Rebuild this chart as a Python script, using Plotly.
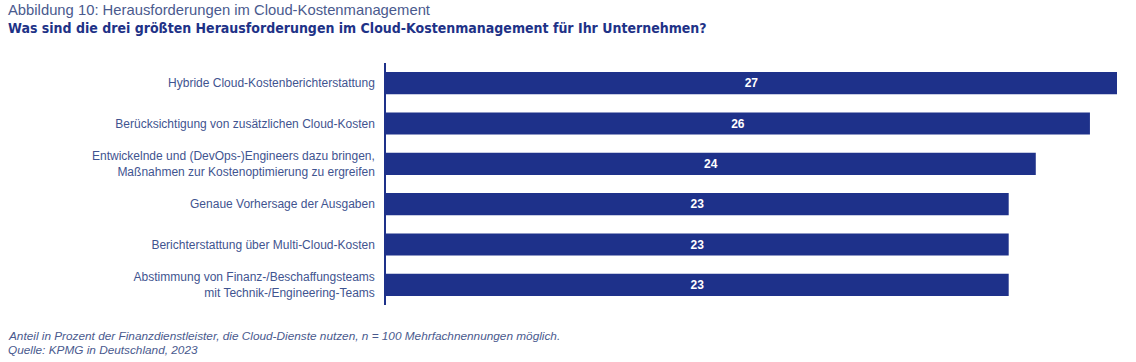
import plotly.graph_objects as go

categories = [
    "Hybride Cloud-Kostenberichterstattung",
    "Berücksichtigung von zusätzlichen Cloud-Kosten",
    "Entwickelnde und (DevOps-)Engineers dazu bringen,<br>Maßnahmen zur Kostenoptimierung zu ergreifen",
    "Genaue Vorhersage der Ausgaben",
    "Berichterstattung über Multi-Cloud-Kosten",
    "Abstimmung von Finanz-/Beschaffungsteams<br>mit Technik-/Engineering-Teams",
]
values = [27, 26, 24, 23, 23, 23]

title_1 = "Abbildung 10: Herausforderungen im Cloud-Kostenmanagement"
title_2 = "Was sind die drei größten Herausforderungen im Cloud-Kostenmanagement für Ihr Unternehmen?"
note_1 = "Anteil in Prozent der Finanzdienstleister, die Cloud-Dienste nutzen, n = 100 Mehrfachnennungen möglich."
note_2 = "Quelle: KPMG in Deutschland, 2023"

BAR = "#1E318A"
LABEL = "#3F5490"
NOTE = "#4A5A8E"

W, H = 1136, 362
L, R, T, B = 386, 19, 63, 57
PW, PH = W - L - R, H - T - B

def px(x):
    return (x - L) / PW

def py(y):
    return (H - B - y) / PH

fig = go.Figure(
    go.Bar(
        x=values,
        y=categories,
        orientation="h",
        marker=dict(color=BAR, line=dict(width=0)),
        width=0.55,
        text=[str(v) for v in values],
        textposition="inside",
        insidetextanchor="middle",
        textangle=0,
        textfont=dict(color="white", size=12, family="Liberation Sans", weight="bold"),
        hoverinfo="skip",
    )
)

fig.update_layout(
    width=W,
    height=H,
    margin=dict(l=L, r=R, t=T, b=B, autoexpand=False),
    paper_bgcolor="white",
    plot_bgcolor="white",
    showlegend=False,
    xaxis=dict(range=[0, 27], visible=False, fixedrange=True),
    yaxis=dict(
        autorange="reversed",
        showline=True,
        linecolor=BAR,
        linewidth=1.5,
        showgrid=False,
        ticks="",
        ticklabelstandoff=7,
        tickfont=dict(family="Liberation Sans", size=12, color=LABEL),
        fixedrange=True,
    ),
    font=dict(family="Liberation Sans"),
)

annotations = [
    dict(text=title_1, x=px(6), y=py(10), font=dict(size=14.8, color=NOTE, family="Liberation Sans")),
    dict(text="<b>" + title_2 + "</b>", x=px(6), y=py(28),
         font=dict(size=14, color="#1E3287", family="DejaVu Sans Condensed, Liberation Sans")),
    dict(text="<i>" + note_1 + "</i>", x=px(6), y=py(336), font=dict(size=11.8, color=NOTE, family="Liberation Sans")),
    dict(text="<i>" + note_2 + "</i>", x=px(6), y=py(350), font=dict(size=11.8, color=NOTE, family="Liberation Sans")),
]
for a in annotations:
    a.update(xref="paper", yref="paper", xanchor="left", yanchor="middle", showarrow=False, align="left")
fig.update_layout(annotations=annotations)

fig.write_html("out.html", config={"displayModeBar": False},
               post_script="document.body.style.margin='0px';")
